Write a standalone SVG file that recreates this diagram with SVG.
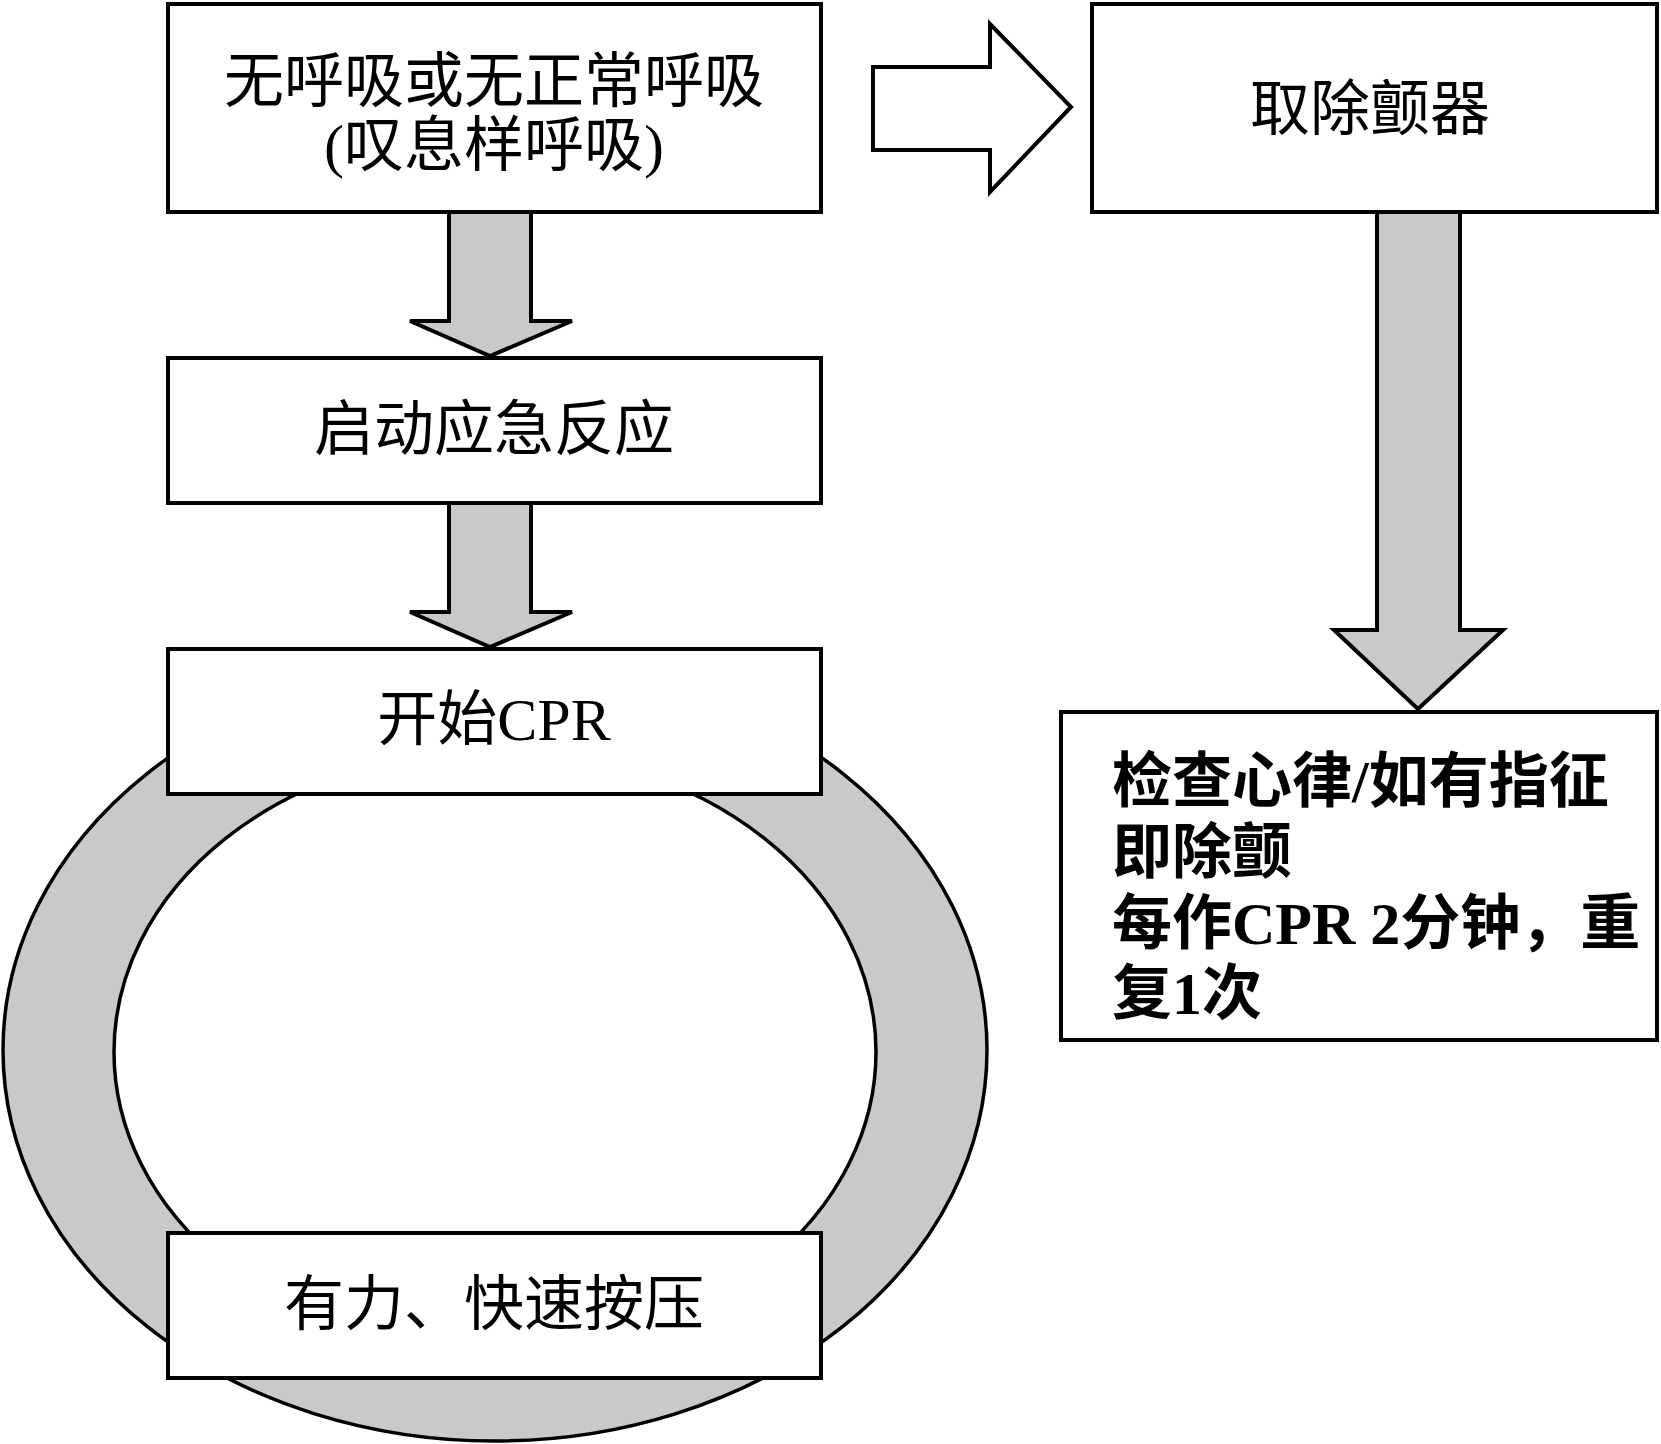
<svg xmlns="http://www.w3.org/2000/svg" width="1661" height="1444" viewBox="0 0 1661 1444">
  <style>
    .box { fill: #ffffff; stroke: #000000; stroke-width: 4; }
    .flow { fill: #c9c9c9; stroke: #000000; stroke-width: 4; stroke-linejoin: miter; }
    .hollow { fill: #ffffff; stroke: #000000; stroke-width: 4; stroke-linejoin: miter; }
    .ring { fill: #c9c9c9; stroke: #000000; stroke-width: 3.5; }
    .hole { fill: #ffffff; stroke: #000000; stroke-width: 3.5; }
    .label { font-family: "Liberation Serif", "Noto Sans CJK SC", serif; font-size: 60px; fill: #000000; text-anchor: middle; }
    .note { font-family: "Liberation Serif", "Noto Sans CJK SC", serif; font-size: 60px; font-weight: bold; fill: #000000; }
  </style>

  <!-- CPR cycle ring behind the two loop boxes -->
  <g id="cycle">
    <ellipse class="ring" cx="495" cy="1050" rx="492" ry="391"/>
    <ellipse class="hole" cx="495" cy="1052" rx="381" ry="302"/>
  </g>

  <g id="connectors">
    <polygon class="flow" points="449,212 531,212 531,321 572,321 490,356 410,321 449,321"/>
    <polygon class="flow" points="449,503 531,503 531,612 572,612 490,647 410,612 449,612"/>
    <polygon class="flow" points="1377,212 1460,212 1460,630 1503,630 1418,709 1334,630 1377,630"/>
    <polygon class="hollow" points="873,67 990,67 990,24 1071,107 990,192 990,150 873,150"/>
  </g>

  <g id="no-breathing">
    <rect class="box" x="168" y="4" width="653" height="208"/>
    <text class="label" x="494" y="102">无呼吸或无正常呼吸</text>
    <text class="label" x="494" y="166">(叹息样呼吸)</text>
  </g>

  <g id="activate-response">
    <rect class="box" x="168" y="358" width="653" height="145"/>
    <text class="label" x="494" y="450">启动应急反应</text>
  </g>

  <g id="start-cpr">
    <rect class="box" x="168" y="649" width="653" height="145"/>
    <text class="label" x="494" y="740">开始CPR</text>
  </g>

  <g id="compress">
    <rect class="box" x="168" y="1233" width="653" height="145"/>
    <text class="label" x="494" y="1325">有力、快速按压</text>
  </g>

  <g id="get-defibrillator">
    <rect class="box" x="1092" y="4" width="565" height="208"/>
    <text class="label" x="1370" y="130">取除颤器</text>
  </g>

  <g id="check-rhythm">
    <rect class="box" x="1061" y="712" width="596" height="328"/>
    <text class="note" x="1112" y="802">检查心律/如有指征</text>
    <text class="note" x="1112" y="873">即除颤</text>
    <text class="note" x="1112" y="944">每作CPR 2分钟，重</text>
    <text class="note" x="1112" y="1014">复1次</text>
  </g>
</svg>
